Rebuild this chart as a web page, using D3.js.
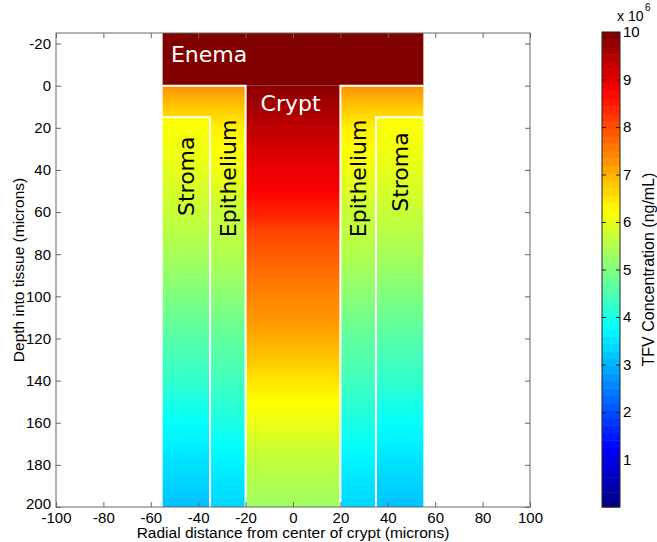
<!DOCTYPE html>
<html><head><meta charset="utf-8">
<script src="https://cdn.jsdelivr.net/npm/d3@7"></script>
<style>body{margin:0;background:#fff} svg{display:block}</style>
</head><body><svg id="c" width="657" height="542"></svg>
<script>
// ---- data (microns, concentrations in units of 10^6 ng/mL) ----
const xTicks = [-100,-80,-60,-40,-20,0,20,40,60,80,100];
const yTicks = [-20,0,20,40,60,80,100,120,140,160,180,200];
const cbTicks = [1,2,3,4,5,6,7,8,9,10];
const depths = [0,10,20,30,40,50,60,70,80,90,100,110,120,130,140,150,160,170,180,190,200];
const cryptConc = [9.9,9.65,9.4,9.15,8.95,8.8,8.45,8.05,7.85,7.65,7.45,7.3,7.05,6.8,6.5,6.25,6.05,5.8,5.6,5.45,5.3];
const epitheliumConc = [7.35,6.8,6.4,6.25,6.1,5.9,5.7,5.6,5.5,5.3,5.1,4.9,4.7,4.55,4.4,4.2,4.0,3.8,3.62,3.48,3.35];
const stromaConc = [6.5,6.3,6.2,6.1,6.0,5.85,5.7,5.55,5.4,5.2,5.0,4.8,4.6,4.42,4.25,4.0,3.8,3.62,3.45,3.3,3.15];
const enemaConc = 10;
const regionLabels = ["Enema","Crypt","Stroma","Epithelium"];

// ---- layout ----
const svg = d3.select("#c");
const x = d3.scaleLinear().domain([-100,100]).range([56,530]);
const y = d3.scaleLinear().domain([-25,200]).range([33,507]);
const jet = t => {
  const c = v => Math.max(0, Math.min(1, v));
  const r = c(1.5 - Math.abs(4*t - 3)), g = c(1.5 - Math.abs(4*t - 2)), b = c(1.5 - Math.abs(4*t - 1));
  return d3.rgb(r*255, g*255, b*255).toString();
};
const color = d3.scaleSequential(jet).domain([0,10]);
const off = d3.scaleLinear().domain([0,200]).range([0,1]);
const fmt = d => String(d);

const defs = svg.append("defs");
function grad(id, vals){
  const g = defs.append("linearGradient").attr("id", id)
    .attr("gradientUnits","userSpaceOnUse")
    .attr("x1",0).attr("x2",0).attr("y1",y(0)).attr("y2",y(200));
  g.selectAll("stop").data(depths).join("stop")
    .attr("offset", d => off(d))
    .attr("stop-color", (d,i) => color(vals[i]));
}
grad("gc", cryptConc); grad("ge", epitheliumConc); grad("gs", stromaConc);

const field = svg.append("g");
field.append("rect").attr("x", x(-55)).attr("y", y(-25)).attr("width", x(55)-x(-55)).attr("height", y(0)-y(-25)).attr("fill", color(enemaConc));
field.append("rect").attr("x", x(-20)).attr("y", y(0)).attr("width", x(20)-x(-20)).attr("height", y(200)-y(0)).attr("fill","url(#gc)");
[-1,1].forEach(s => {
  const a = v => x(s*v);
  field.append("path").attr("fill","url(#ge)")
    .attr("d", `M${a(55)},${y(0)}L${a(20)},${y(0)}L${a(20)},${y(200)}L${a(35)},${y(200)}L${a(35)},${y(15)}L${a(55)},${y(15)}Z`);
  field.append("path").attr("fill","url(#gs)")
    .attr("d", `M${a(55)},${y(15)}L${a(35)},${y(15)}L${a(35)},${y(200)}L${a(55)},${y(200)}Z`);
  field.append("path").attr("fill","none").attr("stroke","#fff").attr("stroke-width",2)
    .attr("d", `M${a(55)},${y(0)}L${a(20)},${y(0)}L${a(20)},${y(200)}M${a(55)},${y(15)}L${a(35)},${y(15)}L${a(35)},${y(200)}`);
});

// labels
const lf = "'DejaVu Sans', Verdana, sans-serif";
svg.append("text").text(regionLabels[0]).attr("x", x(-51.5)).attr("y", y(-11)).attr("fill","#fff")
  .attr("font-family", lf).attr("font-size", 22);
svg.append("text").text(regionLabels[1]).attr("x", x(-1)).attr("y", y(12)).attr("fill","#fff")
  .attr("text-anchor","middle").attr("font-family", lf).attr("font-size", 22);
[[-45,43,regionLabels[2]],[-27.5,44,regionLabels[3]],[27.5,44,regionLabels[3]],[45,41,regionLabels[2]]].forEach(([cx,cy,t]) => {
  svg.append("text").text(t)
    .attr("transform", `translate(${x(cx)},${y(cy)}) rotate(-90)`)
    .attr("text-anchor","middle").attr("dy","0.36em")
    .attr("font-family", lf).attr("font-size", 22).attr("fill","#000");
});

// axes
const af = "'Liberation Sans', Arial, sans-serif";
const axCol = "#666";
function styleAxis(g){
  g.select(".domain").remove();
  g.selectAll("line").attr("stroke", axCol);
  g.selectAll("text").attr("font-family", af).attr("font-size", 15).attr("fill","#000");
}
svg.append("rect").attr("x", x(-100)).attr("y", y(-25)).attr("width", x(100)-x(-100)).attr("height", y(200)-y(-25))
  .attr("fill","none").attr("stroke", axCol).attr("stroke-width",1);
svg.append("g").attr("transform",`translate(0,${y(200)})`)
  .call(d3.axisBottom(x).tickValues(xTicks).tickFormat(fmt).tickSizeInner(-5).tickSizeOuter(0).tickPadding(5)).call(styleAxis);
svg.append("g").attr("transform",`translate(0,${y(-25)})`)
  .call(d3.axisTop(x).tickValues(xTicks).tickSizeInner(-5).tickSizeOuter(0).tickFormat("")).call(styleAxis);
svg.append("g").attr("transform",`translate(${x(-100)},0)`)
  .call(d3.axisLeft(y).tickValues(yTicks).tickFormat(fmt).tickSizeInner(-5).tickSizeOuter(0).tickPadding(5)).call(styleAxis)
  .call(g => g.selectAll(".tick").filter(d => d === 200).select("text").attr("dy","0.1em"));
svg.append("g").attr("transform",`translate(${x(100)},0)`)
  .call(d3.axisRight(y).tickValues(yTicks).tickSizeInner(-5).tickSizeOuter(0).tickFormat("")).call(styleAxis);

svg.append("text").text("Radial distance from center of crypt (microns)")
  .attr("x", x(0)).attr("y", 538).attr("text-anchor","middle").attr("font-family", af).attr("font-size", 15.5);
svg.append("text").text("Depth into tissue (microns)")
  .attr("transform", `translate(24,${(y(-25)+y(200))/2}) rotate(-90)`)
  .attr("text-anchor","middle").attr("font-family", af).attr("font-size", 15.5);

// colorbar
const cb = d3.scaleLinear().domain([0,10]).range([507,32]);
const cbx = 602, cbw = 18, n = 64;
svg.append("g").selectAll("rect").data(d3.range(n)).join("rect")
  .attr("x", cbx).attr("width", cbw)
  .attr("y", i => cb((i+1)*10/n)).attr("height", i => cb(i*10/n) - cb((i+1)*10/n) + 0.5)
  .attr("fill", i => color((i+0.5)*10/n));
svg.append("rect").attr("x", cbx).attr("y", cb(10)).attr("width", cbw).attr("height", cb(0)-cb(10))
  .attr("fill","none").attr("stroke","#222").attr("stroke-width",1);
svg.append("g").attr("transform",`translate(${cbx+cbw},0)`)
  .call(d3.axisRight(cb).tickValues(cbTicks).tickFormat(fmt).tickSizeInner(-4).tickSizeOuter(0).tickPadding(3))
  .call(g => { g.select(".domain").remove(); g.selectAll("line").attr("stroke","#222");
    g.selectAll("text").attr("font-family", af).attr("font-size", 15); });
svg.append("g").attr("transform",`translate(${cbx},0)`)
  .call(d3.axisLeft(cb).tickValues(cbTicks).tickSizeInner(-4).tickSizeOuter(0).tickFormat(""))
  .call(g => { g.select(".domain").remove(); g.selectAll("line").attr("stroke","#222"); });
svg.append("text").attr("x", 617).attr("y", 21).attr("font-family", af).attr("font-size", 14).text("x 10");
svg.append("text").attr("x", 645).attr("y", 11).attr("font-family", af).attr("font-size", 10).text("6");
svg.append("text").text("TFV Concentration (ng/mL)")
  .attr("transform", `translate(654,${(cb(0)+cb(10))/2}) rotate(-90)`)
  .attr("text-anchor","middle").attr("font-family", af).attr("font-size", 16);
</script></body></html>
